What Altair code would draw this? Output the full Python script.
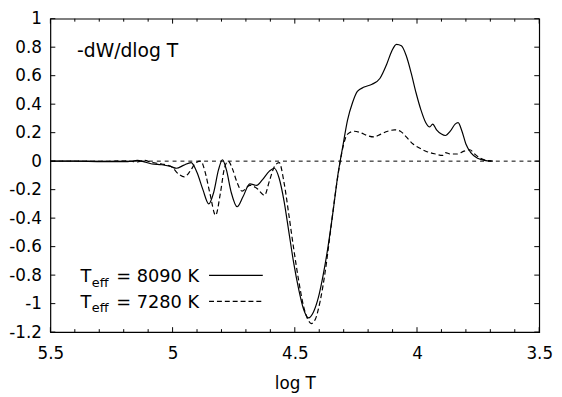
import altair as alt
import pandas as pd

# ---------------- data ----------------
teff = [8090, 7280]

logT_8090 = [5.5, 5.404, 5.284, 5.184, 5.144, 5.116, 5.084, 5.044, 5.012, 4.984,
             4.956, 4.924, 4.9, 4.876, 4.852, 4.832, 4.812, 4.796, 4.78, 4.76,
             4.736, 4.712, 4.684, 4.656, 4.632, 4.604, 4.584, 4.564, 4.544, 4.524,
             4.504, 4.484, 4.464, 4.444, 4.424, 4.404, 4.384, 4.364, 4.344, 4.324,
             4.304, 4.284, 4.264, 4.244, 4.216, 4.184, 4.152, 4.124, 4.104, 4.084,
             4.064, 4.044, 4.024, 4.004, 3.984, 3.964, 3.948, 3.936, 3.92, 3.9,
             3.884, 3.864, 3.844, 3.832, 3.816, 3.8, 3.78, 3.752, 3.724, 3.696]
w_8090 = [0.0, 0.0, -0.003, -0.003, 0.005, -0.005, -0.02, -0.025, -0.035, -0.05,
          -0.03, -0.01, -0.08, -0.2, -0.30, -0.22, -0.06, 0.01, -0.06, -0.22,
          -0.32, -0.25, -0.16, -0.17, -0.13, -0.07, -0.05, -0.12, -0.28, -0.5,
          -0.72, -0.9, -1.04, -1.10, -1.06, -0.96, -0.8, -0.6, -0.36, -0.1,
          0.1, 0.29, 0.41, 0.49, 0.52, 0.54, 0.58, 0.68, 0.77, 0.82,
          0.81, 0.74, 0.62, 0.48, 0.36, 0.27, 0.24, 0.26, 0.22, 0.19,
          0.18, 0.21, 0.26, 0.27, 0.21, 0.12, 0.06, 0.02, 0.005, 0.0]

logT_7280 = [5.5, 5.404, 5.284, 5.184, 5.144, 5.116, 5.084, 5.044, 5.004, 4.976,
             4.952, 4.928, 4.904, 4.884, 4.868, 4.848, 4.824, 4.804, 4.788, 4.772,
             4.756, 4.736, 4.716, 4.684, 4.656, 4.624, 4.604, 4.584, 4.564, 4.544,
             4.524, 4.504, 4.484, 4.464, 4.444, 4.432, 4.416, 4.396, 4.376, 4.356,
             4.336, 4.316, 4.3, 4.284, 4.256, 4.232, 4.204, 4.176, 4.148, 4.12,
             4.092, 4.068, 4.044, 4.016, 3.988, 3.964, 3.924, 3.896, 3.884, 3.864,
             3.836, 3.808, 3.784, 3.764, 3.74, 3.716, 3.684]
w_7280 = [0.0, 0.0, 0.0, 0.003, -0.005, 0.005, -0.01, -0.02, -0.04, -0.09,
          -0.11, -0.07, -0.01, 0.0, -0.07, -0.22, -0.38, -0.22, -0.05, 0.0,
          -0.05, -0.15, -0.21, -0.17, -0.19, -0.24, -0.14, -0.04, -0.01, -0.15,
          -0.38, -0.62, -0.84, -1.02, -1.12, -1.14, -1.11, -0.98, -0.78, -0.52,
          -0.25, -0.02, 0.12, 0.19, 0.21, 0.20, 0.18, 0.17, 0.19, 0.21,
          0.22, 0.21, 0.17, 0.12, 0.09, 0.07, 0.05, 0.04, 0.06, 0.05,
          0.05, 0.07, 0.08, 0.05, 0.02, 0.005, 0.0]

x_major = [3.5, 4.0, 4.5, 5.0, 5.5]
x_minor = [3.6, 3.7, 3.8, 3.9, 4.1, 4.2, 4.3, 4.4, 4.6, 4.7, 4.8, 4.9,
           5.1, 5.2, 5.3, 5.4]
y_ticks = [-1.2, -1.0, -0.8, -0.6, -0.4, -0.2, 0.0, 0.2, 0.4, 0.6, 0.8, 1.0]

# ---------------- layout / style ----------------
FONT = "DejaVu Sans"
W, H = 496, 318
MAJ, MIN = 5, 3

xscale = alt.Scale(domain=[3.5, 5.5], reverse=True, nice=False, zero=False)
yscale = alt.Scale(domain=[-1.2, 1.0], nice=False, zero=False)

df_a = pd.DataFrame({"logT": logT_8090, "w": w_8090})
df_b = pd.DataFrame({"logT": logT_7280, "w": w_7280})
df_xmaj = pd.DataFrame({"logT": x_major})
df_xmin = pd.DataFrame({"logT": x_minor})
df_y = pd.DataFrame({"w": y_ticks})
df_zero = pd.DataFrame({"w": [0.0]})
one = pd.DataFrame({"a": [0]})

X = lambda: alt.X("logT:Q", scale=xscale)
Y = lambda: alt.Y("w:Q", scale=yscale)

line_a = alt.Chart(df_a).mark_line(color="black", strokeWidth=1.2, interpolate="monotone").encode(
    x=alt.X("logT:Q", scale=xscale,
            axis=alt.Axis(values=x_major, tickCount=30, title="log T",
                          labelExpr="'' + datum.value",
                          labelPadding=14, titlePadding=14, labelFlush=False,
                          labelOverlap=False, labelBound=False)),
    y=alt.Y("w:Q", scale=yscale,
            axis=alt.Axis(values=y_ticks, tickCount=30, title="",
                          labelExpr="'' + datum.value",
                          labelPadding=9, labelFlush=False, labelOverlap=False,
                          labelBound=False)),
    order=alt.Order("logT:Q", sort="descending"),
)
line_b = alt.Chart(df_b).mark_line(color="black", strokeWidth=1.2, strokeDash=[5, 3],
                                   interpolate="monotone").encode(
    x=X(), y=Y(),
    order=alt.Order("logT:Q", sort="descending"),
)

zero = alt.Chart(df_zero).mark_rule(color="black", strokeWidth=1, strokeDash=[4, 4]).encode(
    y=Y()
)

def xticks(df, length):
    bottom = alt.Chart(df).mark_rule(color="black", strokeWidth=1).encode(
        x=X(), y=alt.value(H), y2=alt.value(H - length))
    top = alt.Chart(df).mark_rule(color="black", strokeWidth=1).encode(
        x=X(), y=alt.value(0), y2=alt.value(length))
    return [bottom, top]

left_t = alt.Chart(df_y).mark_rule(color="black", strokeWidth=1).encode(
    y=Y(), x=alt.value(0), x2=alt.value(MAJ))
right_t = alt.Chart(df_y).mark_rule(color="black", strokeWidth=1).encode(
    y=Y(), x=alt.value(W), x2=alt.value(W - MAJ))

def txt(s, x, y, size):
    return alt.Chart(one).mark_text(text=s, align="left", baseline="alphabetic", font=FONT,
                                    fontSize=size, color="black").encode(
        x=alt.value(x), y=alt.value(y))

ylabel = txt("-dW/dlog T", 27, 38.7, 19)

leg = []
rows = [(267.3, 260.5, []), (293.1, 286.8, [5, 3])]
for t, (base, ly, dash) in zip(teff, rows):
    leg.append(txt("T", 30.5, base, 18))
    leg.append(txt("eff", 42, base + 5, 13))
    leg.append(txt(f"= {t} K", 66.8, base, 18))
    kw = {"strokeDash": dash} if dash else {}
    leg.append(alt.Chart(one).mark_rule(color="black", strokeWidth=1.2, **kw).encode(
        x=alt.value(161), x2=alt.value(215.5), y=alt.value(ly)))

chart = alt.layer(
    line_a, zero, line_b, *xticks(df_xmaj, MAJ), *xticks(df_xmin, MIN), left_t, right_t,
    ylabel, *leg
).properties(
    width=W, height=H,
    autosize=alt.AutoSizeParams(type="none"),
    padding={"left": 43, "top": 8, "right": 15, "bottom": 63},
).configure_view(
    stroke="black", strokeWidth=1.2
).configure_axis(
    grid=False, ticks=False, tickSize=0, domain=False,
    labelFont=FONT, labelFontSize=17, labelColor="black",
    titleFont=FONT, titleFontSize=17, titleFontWeight="normal", titleColor="black",
)

chart.save("out.html", embed_options={"renderer": "svg", "actions": False})
